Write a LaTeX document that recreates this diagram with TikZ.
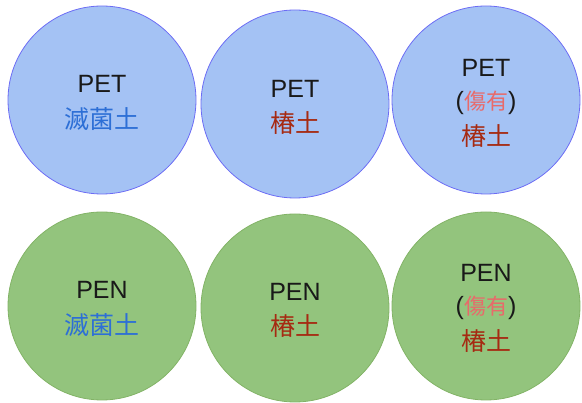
\documentclass[tikz,border=0pt]{standalone}
\usepackage{fontspec}
\setmainfont{Liberation Sans}
\newfontfamily\cjk{Noto Sans CJK JP}
\definecolor{bluefill}{HTML}{A4C2F4}
\definecolor{bluedraw}{HTML}{6C6CF4}
\definecolor{greenfill}{HTML}{93C47D}
\definecolor{greendraw}{HTML}{82B366}
\definecolor{sterile}{HTML}{2D6FD6}
\definecolor{camellia}{HTML}{A62A12}
\definecolor{damaged}{HTML}{E86A6A}
\begin{document}
\begin{tikzpicture}[x=1pt,y=-1pt,
  petc/.style={circle,draw=bluedraw,fill=bluefill,line width=0.8pt,minimum size=188pt,inner sep=0pt},
  penc/.style={circle,draw=greendraw,fill=greenfill,line width=0.8pt,minimum size=188pt,inner sep=0pt},
  txt/.style={inner sep=0pt,font=\fontsize{25}{28}\selectfont,text=black!90},
  cj/.style={inner sep=0pt,font=\cjk\fontsize{25}{28}\selectfont},
  dmg/.style={inner sep=0pt,font=\fontsize{25}{28}\selectfont,text=black!90}]
\useasboundingbox (0,0) rectangle (582,403);
% top row
\node[petc] (c1) at (102,100) {};
\node[petc] (c2) at (295,104) {};
\node[petc] (c3) at (486,100) {};
% bottom row
\node[penc] (c4) at (102,306) {};
\node[penc] (c5) at (295,308) {};
\node[penc] (c6) at (486,306) {};
% texts
\node[txt] (t1a) at (102,84) {PET};
\node[cj,text=sterile] (t1b) at (102,119) {滅菌土};
\node[txt] (t2a) at (295,89) {PET};
\node[cj,text=camellia] (t2b) at (295,123) {椿土};
\node[txt] (t3a) at (486,68) {PET};
\node[dmg] (t3b) at (486,103) {(\textcolor{damaged}{\cjk\fontsize{22}{26}\selectfont 傷有})};
\node[cj,text=camellia] (t3c) at (486,136) {椿土};
\node[txt] (t4a) at (102,290) {PEN};
\node[cj,text=sterile] (t4b) at (102,325) {滅菌土};
\node[txt] (t5a) at (295,292) {PEN};
\node[cj,text=camellia] (t5b) at (295,326) {椿土};
\node[txt] (t6a) at (486,273) {PEN};
\node[dmg] (t6b) at (486,308) {(\textcolor{damaged}{\cjk\fontsize{22}{26}\selectfont 傷有})};
\node[cj,text=camellia] (t6c) at (486,341) {椿土};
\end{tikzpicture}
\end{document}
